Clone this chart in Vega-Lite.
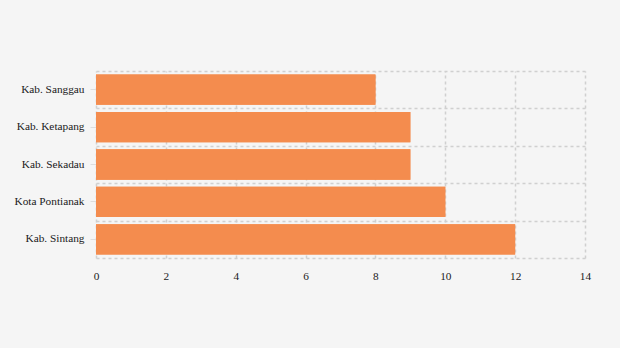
{
  "$schema": "https://vega.github.io/schema/vega-lite/v6.json",
  "width": 489,
  "height": 187,
  "autosize": "none",
  "padding": {"left": 96, "top": 71, "right": 35, "bottom": 90},
  "background": "#f5f5f5",
  "config": {
    "view": {"stroke": null},
    "font": "serif",
    "axis": {"labelFont": "serif", "labelFontSize": 11.3, "labelColor": "#1a1a1a"}
  },
  "data": {
    "values": [
      {"region": "Kab. Sanggau", "value": 8},
      {"region": "Kab. Ketapang", "value": 9},
      {"region": "Kab. Sekadau", "value": 9},
      {"region": "Kota Pontianak", "value": 10},
      {"region": "Kab. Sintang", "value": 12}
    ]
  },
  "layer": [
    {
      "mark": {"type": "bar", "color": "#f48c4e", "height": {"band": 0.81}},
      "encoding": {
        "y": {
          "field": "region", "type": "nominal", "sort": null,
          "scale": {"paddingInner": 0, "paddingOuter": 0},
          "axis": {"title": null, "labels": false, "ticks": false, "domain": false, "grid": true, "tickBand": "extent", "gridColor": "#d0d0d0", "gridDash": [3, 3], "gridWidth": 1.5, "orient": "left"}
        },
        "x": {
          "field": "value", "type": "quantitative",
          "scale": {"domain": [0, 14], "nice": false},
          "axis": {"title": null, "values": [0, 2, 4, 6, 8, 10, 12, 14], "ticks": false, "domain": false, "grid": true, "gridColor": "#d0d0d0", "gridDash": [3, 3], "gridWidth": 1.5, "labelPadding": 12, "labelFlush": false}
        }
      }
    },
    {
      "mark": {"type": "bar", "color": "#f48c4e", "height": {"band": 0.81}},
      "encoding": {
        "y": {
          "field": "region", "type": "nominal", "sort": null,
          "axis": {"title": null, "grid": false, "domain": false, "ticks": true, "tickColor": "#dddddd", "tickSize": 6, "labelPadding": 6, "orient": "left"}
        },
        "x": {"field": "value", "type": "quantitative"}
      }
    }
  ],
  "resolve": {"axis": {"y": "independent"}}
}
